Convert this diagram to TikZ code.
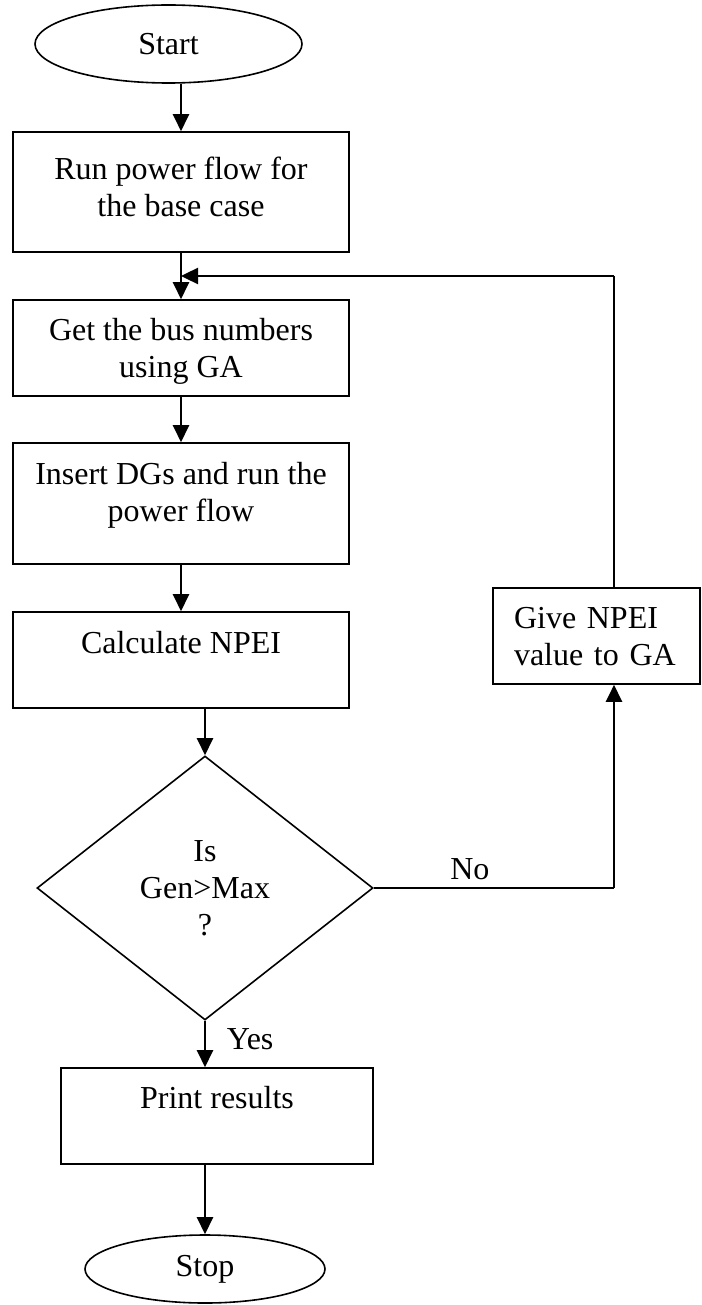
\documentclass[tikz,border=0pt]{standalone}
\usepackage{fontspec}
\setmainfont{Liberation Serif}
\usetikzlibrary{shapes.geometric, arrows.meta, calc}

\begin{document}
\begin{tikzpicture}[x=0.5pt,y=-0.5pt,
  font=\fontsize{16}{18.5}\selectfont,
  flowbox/.style={draw, line width=0.8pt, rectangle, inner xsep=0pt, inner ysep=0pt, align=center, minimum width=168pt},
  terminal/.style={draw, line width=0.8pt, ellipse, inner sep=0pt},
  decision/.style={draw, line width=0.8pt, diamond, inner sep=0pt, align=center, minimum width=168pt, minimum height=132pt},
  flowline/.style={line width=1.2pt},
  flowarrow/.style={line width=1.2pt, -{Triangle[length=8.5pt,width=8pt]}}]
\useasboundingbox (0,0) rectangle (701,1305);

\node[terminal, minimum width=133.5pt, minimum height=39pt] (start) at (168.5,44) {Start};
\node[flowbox, text height=42.5pt, text depth=17.5pt] (run) at (181,192) {Run power flow for\\the base case};
\node[flowbox, text height=38.5pt, text depth=9.5pt] (bus) at (181,348) {Get the bus numbers\\using GA};
\node[flowbox, text height=39pt, text depth=21.5pt] (insert) at (181,503.5) {Insert DGs and run the\\power flow};
\node[flowbox, text height=20.5pt, text depth=27.5pt] (npei) at (181,660) {Calculate NPEI};
\node[decision] (check) at (205,888) {Is\\Gen>Max\\?};
\node[flowbox, align=left, minimum width=0pt, text width=82.5pt, inner xsep=10.5pt, text height=20pt, text depth=28pt] (give) at (596.5,636) {Give NPEI\\value to GA};
\node[flowbox, minimum width=156pt, text height=20pt, text depth=28pt] (print) at (217,1116) {Print results};
\node[terminal, minimum width=120pt, minimum height=34pt] (stop) at (205,1269) {Stop};

\coordinate (merge) at (181,276);
\coordinate (loopturn) at (614,276);
\coordinate (noturn) at (614,888);

\draw[flowarrow] (start.south -| run.north) -- (run.north);
\draw[flowarrow] (run.south) -- (bus.north);
\draw[flowline] (give.north -| loopturn) -- (loopturn);
\draw[flowarrow] (loopturn) -- (merge);
\draw[flowarrow] (bus.south) -- (insert.north);
\draw[flowarrow] (insert.south) -- (npei.north);
\draw[flowarrow] (npei.south -| check.north) -- (check.north);
\draw[flowline] (check.east) -- (noturn)
  node[pos=0.4, above] {No};
\draw[flowarrow] (noturn) -- (noturn |- give.south);
\draw[flowarrow] (check.south) -- (check.south |- print.north)
  node[pos=0.4, right=7pt] {Yes};
\draw[flowarrow] (print.south -| stop.north) -- (stop.north);
\end{tikzpicture}
\end{document}
